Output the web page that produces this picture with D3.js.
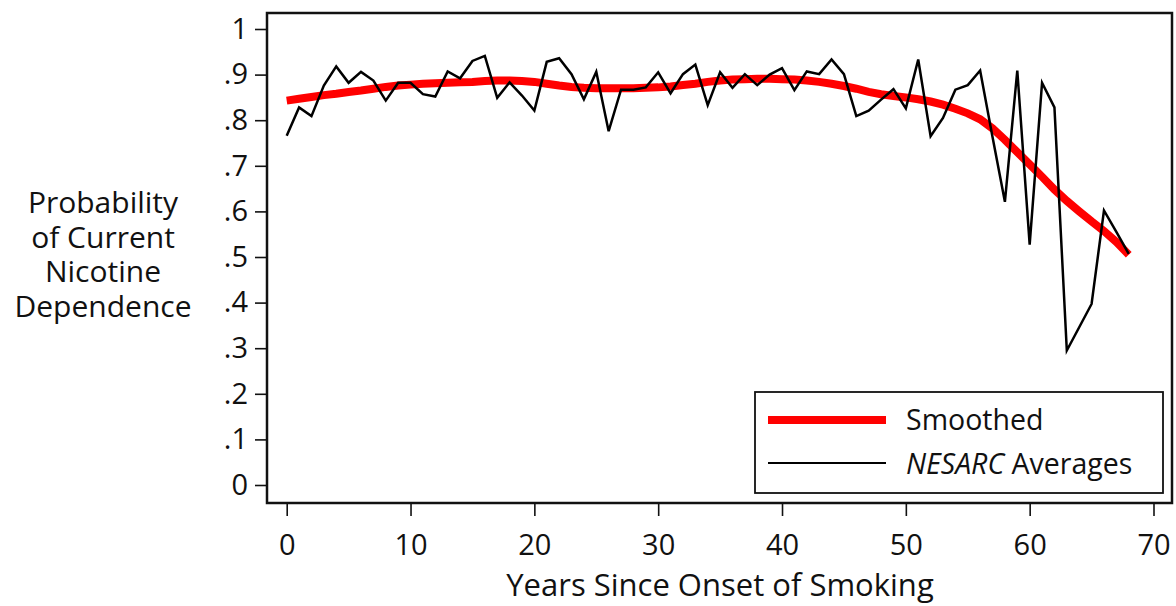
<!DOCTYPE html>
<html>
<head>
<meta charset="utf-8">
<script src="https://cdn.jsdelivr.net/npm/d3@7"></script>
<style>
  body { margin: 0; background: #fff; }
  text { font-family: "Open Sans", "Noto Sans", sans-serif; fill: #111; }
</style>
</head>
<body>
<div id="chart"></div>
<script>
// years since onset, 0..68
const years = d3.range(0, 69);

// NESARC yearly averages (black line)
const nesarc = [
  .766, .828, .809, .876, .918, .882, .906, .887, .843, .882,
  .882, .857, .852, .907, .892, .930, .941, .849, .883, .854,
  .821, .928, .936, .901, .846, .906, .776, .867, .867, .872,
  .905, .859, .901, .922, .833, .905, .871, .901, .877, .900,
  .914, .866, .907, .901, .933, .901, .809, .821, .845, .868,
  .826, .933, .765, .805, .867, .877, .909, .763, .621, .909,
  .527, .882, .828, .295, .346, .397, .602, .555, .507
];

// smoothed curve (red line)
const smoothed = [
  .843, .847, .851, .855, .858, .862, .865, .869, .873, .876,
  .878, .880, .881, .882, .883, .884, .886, .887, .887, .886,
  .884, .880, .876, .873, .871, .870, .870, .870, .870, .871,
  .872, .874, .877, .880, .884, .887, .889, .890, .891, .891,
  .890, .889, .887, .884, .880, .875, .869, .862, .857, .853,
  .850, .846, .841, .834, .825, .815, .802, .782, .757, .730,
  .703, .676, .648, .623, .600, .578, .557, .533, .505
];

const xTicks = [0, 10, 20, 30, 40, 50, 60, 70];
const yTicks = [0, .1, .2, .3, .4, .5, .6, .7, .8, .9, 1];
const yTitle = ["Probability", "of Current", "Nicotine", "Dependence"];

const width = 1176, height = 606;
const frame = {left: 267, right: 1172, top: 13, bottom: 503};

const svg = d3.select("#chart").append("svg")
  .attr("width", width)
  .attr("height", height);

let x = d3.scaleLinear().domain([0, 70]).range([286.7, 1153.5]);
let y = d3.scaleLinear().domain([0, 1]).range([485, 29]);

// plot frame
svg.append("rect")
  .attr("x", frame.left)
  .attr("y", frame.top)
  .attr("width", frame.right - frame.left)
  .attr("height", frame.bottom - frame.top)
  .attr("fill", "none")
  .attr("stroke", "#111")
  .attr("stroke-width", 2.5);

// y axis
let yAxis = svg.append("g")
  .attr("transform", `translate(${frame.left}, 0)`)
  .call(d3.axisLeft(y)
    .tickValues(yTicks)
    .tickSize(12)
    .tickPadding(7)
    .tickFormat(d => d === 0 ? "0" : d === 1 ? "1" : "." + Math.round(d * 10)));
yAxis.select(".domain").remove();
yAxis.selectAll("line").attr("stroke", "#111").attr("stroke-width", 1.6);
yAxis.selectAll("text").style("font-size", "29px").attr("fill", "#111");

// x axis
let xAxis = svg.append("g")
  .attr("transform", `translate(0, ${frame.bottom})`)
  .call(d3.axisBottom(x)
    .tickValues(xTicks)
    .tickSize(13)
    .tickPadding(18));
xAxis.select(".domain").remove();
xAxis.selectAll("line").attr("stroke", "#111").attr("stroke-width", 1.6);
xAxis.selectAll("text").style("font-size", "29px").attr("fill", "#111");

// axis titles
svg.append("text")
  .attr("x", 720)
  .attr("y", 596)
  .attr("text-anchor", "middle")
  .style("font-size", "31px")
  .text("Years Since Onset of Smoking");

svg.append("g").selectAll("text")
  .data(yTitle)
  .join("text")
  .attr("x", 103)
  .attr("y", (d, i) => 213 + i * 34.5)
  .attr("text-anchor", "middle")
  .style("font-size", "30px")
  .text(d => d);

// lines
let line = d3.line()
  .x((d, i) => x(years[i]))
  .y(d => y(d));

svg.append("path")
  .attr("d", line(smoothed))
  .attr("fill", "none")
  .attr("stroke", "#ff0000")
  .attr("stroke-width", 8);

svg.append("path")
  .attr("d", line(nesarc))
  .attr("fill", "none")
  .attr("stroke", "#000")
  .attr("stroke-width", 2.5);

// legend
let legend = svg.append("g");
legend.append("rect")
  .attr("x", 755).attr("y", 392)
  .attr("width", 408).attr("height", 101)
  .attr("fill", "#fff")
  .attr("stroke", "#111")
  .attr("stroke-width", 1.8);

legend.append("line")
  .attr("x1", 768).attr("x2", 886)
  .attr("y1", 420).attr("y2", 420)
  .attr("stroke", "#ff0000").attr("stroke-width", 8);
legend.append("text")
  .attr("x", 906).attr("y", 430)
  .style("font-size", "28.5px")
  .text("Smoothed");

legend.append("line")
  .attr("x1", 768).attr("x2", 886)
  .attr("y1", 463).attr("y2", 463)
  .attr("stroke", "#000").attr("stroke-width", 2.2);
let t2 = legend.append("text")
  .attr("x", 906).attr("y", 474)
  .style("font-size", "28.5px");
t2.append("tspan").style("font-style", "italic").text("NESARC");
t2.append("tspan").text(" Averages");
</script>
</body>
</html>
